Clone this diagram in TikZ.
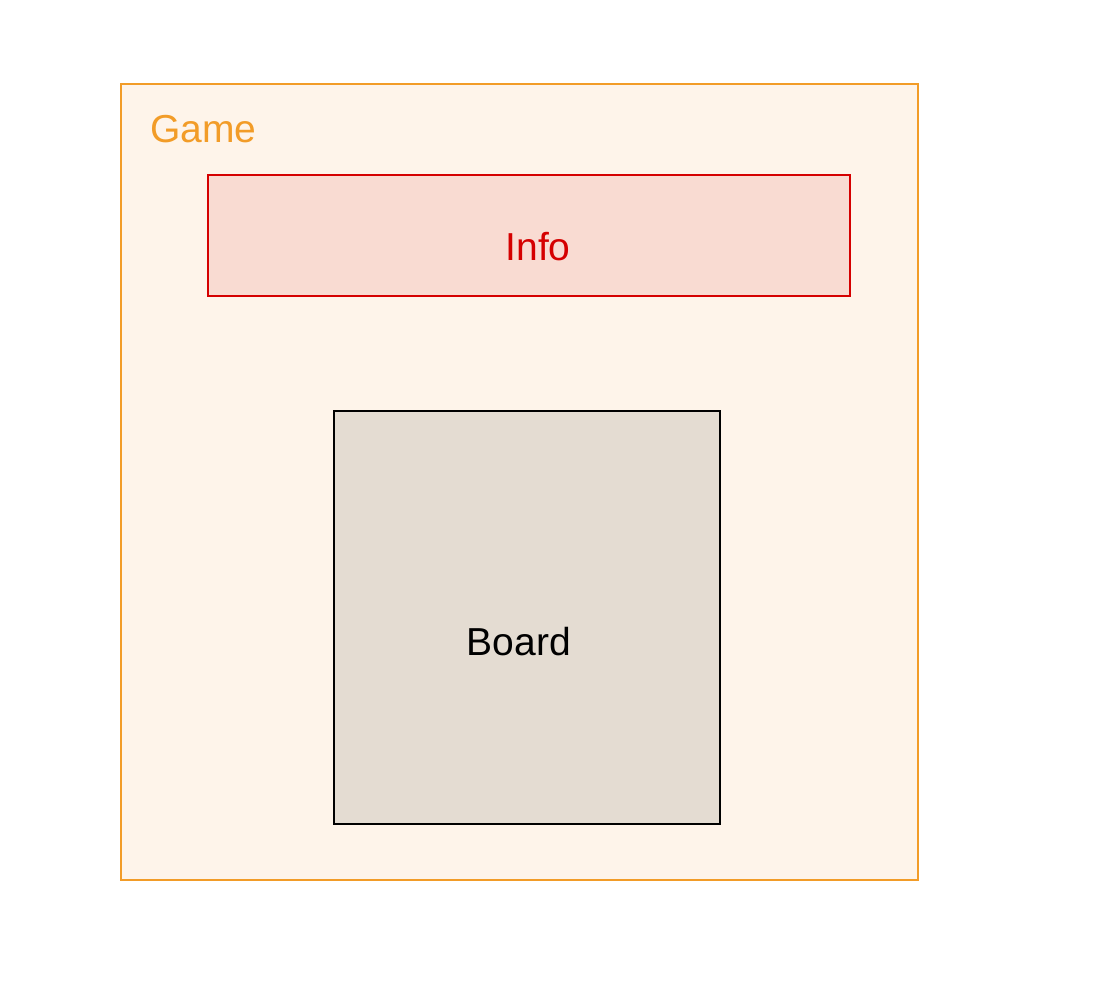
\documentclass[tikz,border=0pt]{standalone}
\usepackage{fontspec}
\setmainfont{Liberation Sans}
\definecolor{gameline}{RGB}{242,156,40}
\definecolor{gamefill}{RGB}{254,244,234}
\definecolor{infoline}{RGB}{213,0,0}
\definecolor{infofill}{RGB}{249,219,210}
\definecolor{boardfill}{RGB}{228,220,210}
\begin{document}
\begin{tikzpicture}[x=1pt,y=-1pt,
  box/.style={draw,line width=2pt,inner sep=0pt,outer sep=0pt},
  lbl/.style={inner sep=0pt,font=\fontsize{39}{47}\selectfont}]
\useasboundingbox (0,0) rectangle (1099,1000);
\node[box,draw=gameline,fill=gamefill,minimum width=797pt,minimum height=796pt] (game) at (519.5,482) {};
\node[lbl,text=gameline,anchor=base west] (gamelbl) at (150,143) {Game};
\node[box,draw=infoline,fill=infofill,minimum width=642pt,minimum height=121pt] (info) at (529,235.5) {};
\node[lbl,text=infoline,anchor=base] (infolbl) at (538,260) {Info};
\node[box,draw=black,fill=boardfill,minimum width=386pt,minimum height=413pt] (board) at (527,617.5) {};
\node[lbl,text=black,anchor=base] (boardlbl) at (519,655) {Board};
\end{tikzpicture}
\end{document}
